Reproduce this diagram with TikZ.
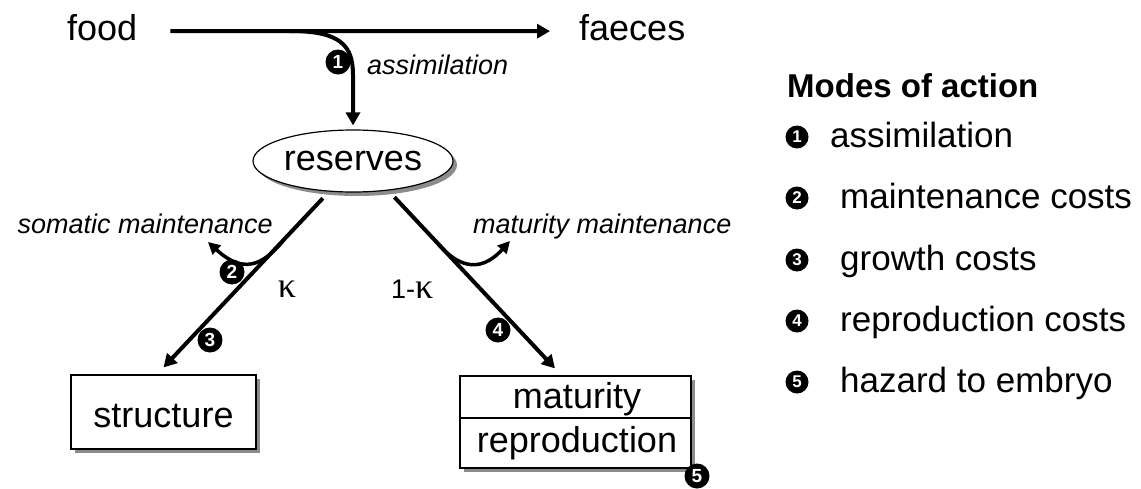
\documentclass[tikz,border=0pt]{standalone}
\usepackage{fontspec}
\setmainfont{Liberation Sans}
\newfontfamily\kapfont{Liberation Serif}
\usetikzlibrary{arrows.meta,shapes.geometric,shadows}
\begin{document}
\begin{tikzpicture}[x=1pt,y=-1pt,
  big/.style={font=\fontsize{36}{40}\selectfont, inner sep=0pt},
  lab/.style={font=\fontsize{27}{30}\selectfont\itshape, inner sep=0pt},
  leg/.style={font=\fontsize{35}{38}\selectfont, inner sep=0pt, anchor=base west},
  legtitle/.style={font=\fontsize{33}{36}\selectfont\bfseries, inner sep=0pt, anchor=base west},
  badge/.style={circle, fill=black, text=white, inner sep=0pt, minimum size=25pt,
    font=\fontsize{19}{19}\selectfont\bfseries},
  lbadge/.style={badge, minimum size=23pt, font=\fontsize{17}{17}\selectfont\bfseries},
  flow/.style={line width=4pt, -{Triangle[length=13pt,width=14pt]}},
  branch/.style={line width=3.5pt, -{Triangle[length=12pt,width=12pt]}},
  shad/.style={drop shadow={shadow xshift=4pt, shadow yshift=-4pt, fill=black!45, opacity=1}},
  boxs/.style={draw, line width=1.2pt, fill=white, inner sep=0pt, shad},
]
\useasboundingbox (0,0) rectangle (1141,488);

% texts top
\node[big, anchor=base west] (food) at (67,40) {food};
\node[big, anchor=base west] (faeces) at (579,40) {faeces};

% reserves
\node[ellipse, boxs, minimum width=200pt, minimum height=62pt, font=\fontsize{36}{40}\selectfont]
  (reserves) at (353,161) {reserves};

% structure box
\node[boxs, minimum width=185pt, minimum height=74pt] (structure) at (163.5,412) {};
\node[big, anchor=base] (structuretxt) at (163.5,427) {structure};

% maturity / reproduction box
\node[boxs, minimum width=231pt, minimum height=92pt] (mat) at (575.5,422) {};
\draw[line width=1.2pt] (mat.west |- 0,418) -- (mat.east |- 0,418);
\node[big, anchor=base] (maturity) at (577,408) {maturity};
\node[big, anchor=base] (repro) at (577,452) {reproduction};

% main flows
\draw[flow, shorten <=33pt, shorten >=29pt] ([yshift=-4pt]food.east) -- ([yshift=-4pt]faeces.west);
\coordinate (a0) at (290,31);
\draw[flow, shorten >=4pt] (a0) .. controls (340,31) and (353,45) .. (353,75) -- (reserves.north);

\draw[flow, shorten <=9pt] (reserves.232) -- ([yshift=7pt]structure.north);
\draw[flow, shorten <=9pt] (reserves.320) -- ([shift={(-20.5pt,7pt)}]mat.north);

% maintenance branches
\coordinate (s0) at (283,241);
\draw[branch] (s0) .. controls (262,266) and (243,274) .. (208,242);
\coordinate (r0) at (438,244);
\draw[branch] (r0) .. controls (456,264) and (478,276) .. (510,241);

% labels
\node[lab, anchor=base west] (assimlab) at (367,74) {assimilation};
\node[lab, anchor=base east] (somlab) at (273,233) {somatic maintenance};
\node[lab, anchor=base west] (matlab) at (473,233) {maturity maintenance};
\node[inner sep=0pt, anchor=base, font=\fontsize{36}{38}\kapfont] (k1) at (287,297) {κ};
\node[inner sep=0pt, anchor=base west, font=\fontsize{27}{30}\selectfont] (k2) at (391,298) {1-{\fontsize{36}{38}\kapfont κ}};

% badges
\node[badge] (b1) at (338,62) {1};
\node[badge] (b2) at (232,272) {2};
\node[badge] (b3) at (210,340) {3};
\node[badge] (b4) at (498,330) {4};
\node[badge] (b5) at (697,476) {5};

% legend
\node[legtitle] (modes) at (787,97) {Modes of action};
\node[lbadge] (l1) at (797,137) {1};
\node[leg] (t1) at (830,147) {assimilation};
\node[lbadge] (l2) at (797,198) {2};
\node[leg] (t2) at (840,208.5) {maintenance costs};
\node[lbadge] (l3) at (797,260) {3};
\node[leg] (t3) at (840,270) {growth costs};
\node[lbadge] (l4) at (797,321) {4};
\node[leg] (t4) at (840,331) {reproduction costs};
\node[lbadge] (l5) at (797,382) {5};
\node[leg] (t5) at (840,392) {hazard to embryo};
\end{tikzpicture}
\end{document}
